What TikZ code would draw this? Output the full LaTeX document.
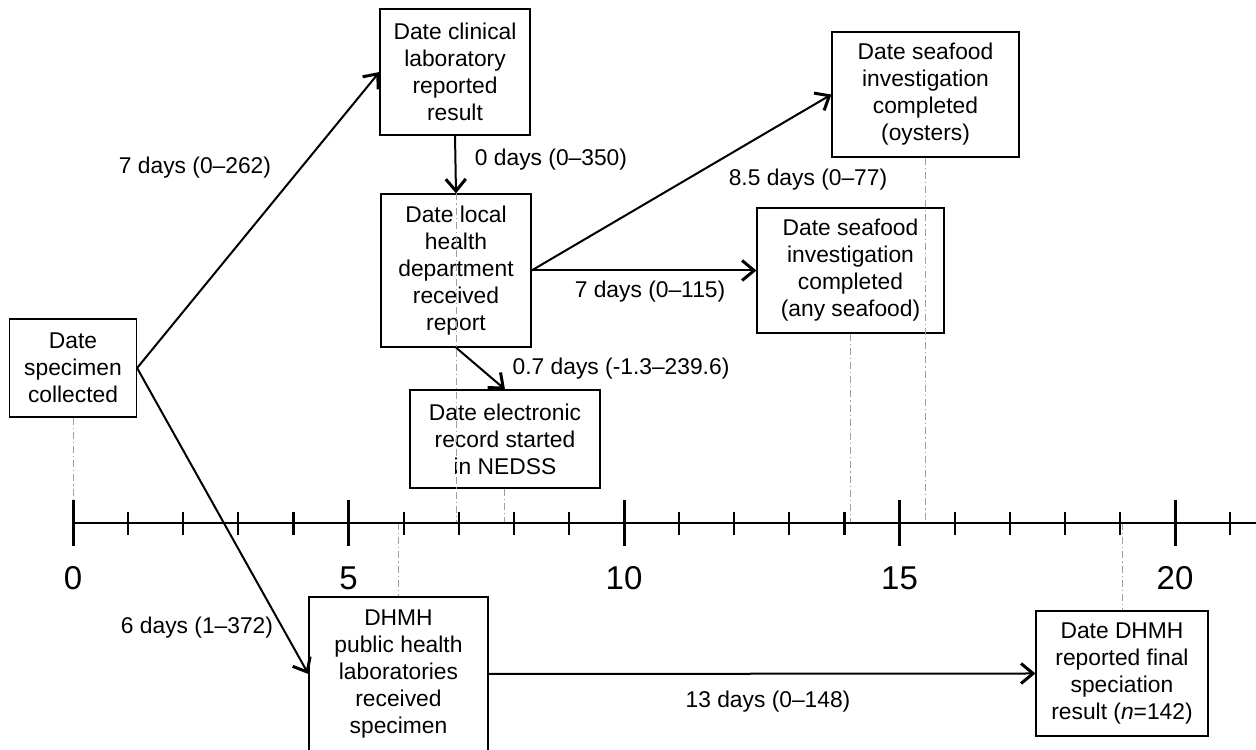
\documentclass[tikz,border=0pt]{standalone}
\usepackage{fontspec}
\setmainfont{Liberation Sans}
\usetikzlibrary{arrows.meta,positioning}

\begin{document}
\begin{tikzpicture}[x=27.55pt,y=27.55pt,
  font=\fontsize{11.4}{13.5}\selectfont,
  box/.style={draw,line width=0.6pt,align=center,inner sep=0pt},
  flow/.style={line width=1pt,-{Straight Barb[length=6pt,width=10pt,line width=1.5pt]}},
  guide/.style={gray!75,line width=0.5pt,dash pattern=on 3.5pt off 1.5pt on 0.6pt off 1.5pt},
  days/.style={inner sep=0pt},
  minortick/.style={line width=1.1pt},
  majortick/.style={line width=1.5pt}]

\useasboundingbox (-1.325,-4.102) rectangle (21.47,9.492);

\coordinate (ax) at (0,0);

\node[box,minimum width=63.5pt,minimum height=49pt] (spec) at (0,2.813) {Date\\specimen\\collected};
\node[box,minimum width=75pt,minimum height=63pt] (clin) at (6.933,8.185) {Date clinical\\laboratory\\reported\\result};
\node[box,minimum width=75pt,minimum height=76.5pt] (lhd) at (6.951,4.583) {Date local\\health\\department\\received\\report};
\node[box,minimum width=95pt,minimum height=49pt] (nedss) at (7.840,1.525) {Date electronic\\record started\\in NEDSS};
\node[box,minimum width=93.5pt,minimum height=62.5pt] (oyst) at (15.472,7.777) {Date seafood\\investigation\\completed\\(oysters)};
\node[box,minimum width=93.5pt,minimum height=62.5pt] (any) at (14.111,4.583) {Date seafood\\investigation\\completed\\(any seafood)};
\node[box,minimum width=89.5pt,minimum height=77pt] (phl) at (5.907,-2.740) {DHMH\\public health\\laboratories\\received\\specimen};
\node[box,minimum width=86pt,minimum height=62.5pt] (fin) at (19.038,-2.731) {Date DHMH\\reported final\\speciation\\result (\textit{n}=142)};

\draw[guide] (spec.south) -- (spec.south |- ax);
\draw[guide] (lhd.north) -- (lhd.north |- ax);
\draw[guide] (nedss.south) -- (nedss.south |- ax);
\draw[guide] (any.south) -- (any.south |- ax);
\draw[guide] (oyst.south) -- (oyst.south |- ax);
\draw[guide] (phl.north |- ax) -- (phl.north);
\draw[guide] (fin.north |- ax) -- (fin.north);

\draw[line width=1.3pt] (ax) -- (21.6,0);
\foreach \t in {1,...,21}
  \draw[minortick] (\t,-0.21) -- (\t,0.2);
\foreach \t in {0,5,...,20}{
  \draw[majortick] (\t,-0.41) -- (\t,0.41);
  \node[font=\fontsize{16.5}{19}\selectfont] (num\t) at (\t,-1.0) {\t};
}

\draw[flow] (spec.east) -- (clin.west);
\draw[flow] (spec.east) -- (phl.west);
\draw[flow] (clin.south) -- (lhd.north);
\draw[flow] (lhd.east) -- (oyst.west);
\draw[flow] (lhd.east) -- (any.west);
\draw[flow] (lhd.south) -- (nedss.north);
\draw[flow] (phl.east) -- (fin.west);

\node[days] (d1) at (2.214,6.443) {7 days (0--262)};
\node[days] (d2) at (8.675,6.588) {0 days (0--350)};
\node[days] (d3) at (13.339,6.225) {8.5 days (0--77)};
\node[days] (d4) at (10.472,4.192) {7 days (0--115)};
\node[days] (d5) at (9.946,2.795) {0.7 days (-1.3--239.6)};
\node[days] (d6) at (2.250,-1.906) {6 days (1--372)};
\node[days] (d7) at (12.613,-3.249) {13 days (0--148)};

\end{tikzpicture}
\end{document}
